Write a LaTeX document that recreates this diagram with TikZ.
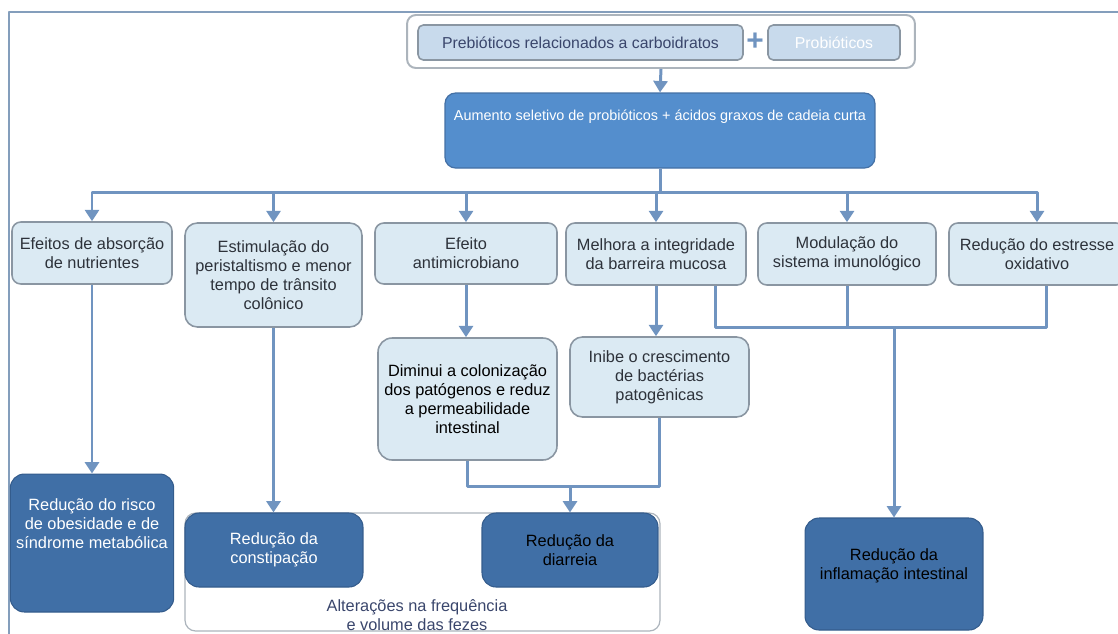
\documentclass[tikz,border=0pt]{standalone}
\usepackage{fontspec}
\setmainfont{Liberation Sans}
\usepackage{tikz}
\usetikzlibrary{arrows.meta,calc,positioning}
\definecolor{lnk}{RGB}{112,148,192}
\definecolor{lite}{RGB}{219,234,243}
\definecolor{edge}{RGB}{138,150,162}
\definecolor{deep}{RGB}{64,111,166}
\definecolor{deepedge}{RGB}{52,92,140}
\definecolor{mid}{RGB}{84,142,205}
\definecolor{midedge}{RGB}{68,112,165}
\definecolor{pale}{RGB}{200,218,236}
\definecolor{txt}{RGB}{45,50,58}
\definecolor{frm}{RGB}{132,158,188}
\definecolor{grpedge}{RGB}{172,180,188}
\definecolor{capt}{RGB}{58,70,108}

\begin{document}
\begin{tikzpicture}
[x=0.02cm, y=-0.02cm, line join=round,
lite box/.style={draw=edge, line width=0.9pt, fill=lite, rounded corners=5pt,
  align=center, text=txt, font=\fontsize{9.3}{10.8}\selectfont, inner sep=2pt},
deep box/.style={draw=deepedge, line width=0.6pt, fill=deep, rounded corners=8pt,
  align=center, text=white, font=\fontsize{9.3}{10.8}\selectfont},
pill/.style={draw=edge, line width=0.9pt, fill=pale, rounded corners=3pt,
  minimum height=0.7cm, text=capt, font=\fontsize{9}{10.8}\selectfont},
link/.style={draw=lnk, line width=1.7pt},
arr/.style={link, -{Triangle[width=8pt,length=6.5pt]}}]

\useasboundingbox (0,0) rectangle (1118,633);

% outer frame
\draw[frm, line width=1.2pt] (9,640) -- (9,12) -- (1125,12);

% top
\node (grp) at (661,41.5)[draw=grpedge, line width=1.1pt, fill=white, rounded corners=5pt,
  minimum width=10.16cm, minimum height=1.06cm] {};
\node (pre) at (580.5,42.5)[pill, minimum width=6.5cm] {Prebióticos relacionados a carboidratos};
\node (plus) at (755,42)[text=lnk, font=\bfseries\fontsize{17}{17}\selectfont] {+};
\node (pro) at (834,42.5)[pill, minimum width=2.64cm, text=white] {Probióticos};
\node (aum) at (660,130.5)[draw=midedge, line width=0.7pt, fill=mid, rounded corners=6pt,
  minimum width=8.6cm, minimum height=1.5cm, align=center, text=white,
  font=\fontsize{8.2}{10.8}\selectfont]
  {Aumento seletivo de probióticos + ácidos graxos de cadeia curta\\[0.24cm]\mbox{}};

% first row
\node (ab) at (92,253)[lite box, minimum width=3.2cm, minimum height=1.24cm]
  {Efeitos de absorção\\de nutrientes};
\node (est) at (273.5,275)[lite box, rounded corners=7pt, minimum width=3.54cm, minimum height=2.08cm]
  {Estimulação do\\peristaltismo e menor\\tempo de trânsito\\colônico};
\node (anti) at (466,253.5)[lite box, minimum width=3.64cm, minimum height=1.22cm]
  {Efeito\\antimicrobiano};
\node (mel) at (656,254)[lite box, minimum width=3.6cm, minimum height=1.24cm]
  {Melhora a integridade\\da barreira mucosa};
\node (mod) at (847,254)[lite box, minimum width=3.56cm, minimum height=1.24cm]
  {Modulação do\\sistema imunológico};
\node (oxi) at (1037,254)[lite box, minimum width=3.52cm, minimum height=1.24cm]
  {Redução do estresse\\oxidativo};

% second row
\node (dim) at (467.5,399)[lite box, rounded corners=8pt, text=black, minimum width=3.58cm, minimum height=2.44cm]
  {Diminui a colonização\\dos patógenos e reduz\\a permeabilidade\\intestinal};
\node (ini) at (659.5,377)[lite box, rounded corners=7pt, minimum width=3.58cm, minimum height=1.6cm]
  {Inibe o crescimento\\de bactérias\\patogênicas};

% results
\node (frq) at (422.5,572)[draw=grpedge, line width=0.7pt, rounded corners=6pt,
  minimum width=9.5cm, minimum height=2.36cm] {};
\node (fez) at (417,615)[align=center, text=capt, font=\fontsize{9.3}{10.8}\selectfont]
  {Alterações na frequência\\e volume das fezes};
\node (ris) at (92,543)[deep box, minimum width=3.2cm, minimum height=2.76cm]
  {Redução do risco\\de obesidade e de\\síndrome metabólica\\[0.38cm]\mbox{}};
\node (con) at (274,550)[deep box, minimum width=3.56cm, minimum height=1.48cm]
  {Redução da\\constipação};
\node (dia) at (570,550)[deep box, text=black, minimum width=3.52cm, minimum height=1.48cm]
  {Redução da\\diarreia};
\node (inf) at (894,574)[deep box, text=black, minimum width=3.56cm, minimum height=2.24cm]
  {Redução da\\inflamação intestinal\\\mbox{}};

\coordinate (bus) at (660,192);
\coordinate (mg1) at (570,486);
\coordinate (mg2) at (894,327);

\draw[arr] (grp.south) -- (aum.north);
\draw[link] (aum.south) -- (bus);
\foreach \n in {ab,est,anti,mel,mod,oxi}
  \draw[arr] (bus) -| (\n.north);

\draw[arr] (ab.south) -- (ris.north);
\draw[arr] (est.south) -- (est.south |- con.north);
\draw[arr] (anti.south) -- (anti.south |- dim.north);
\draw[arr] (mel.south) -- (mel.south |- ini.north);

\draw[link] (dim.south) |- (mg1);
\draw[link] (ini.south) |- (mg1);
\draw[arr] (mg1) -- (dia.north);

\draw[link] ($(mel.south)+(59,0)$) |- (mg2) -| ($(oxi.south)+(9,0)$);
\draw[link] (mod.south) -- (mod.south |- mg2);
\draw[arr] (mg2) -- (inf.north);

\end{tikzpicture}
\end{document}
